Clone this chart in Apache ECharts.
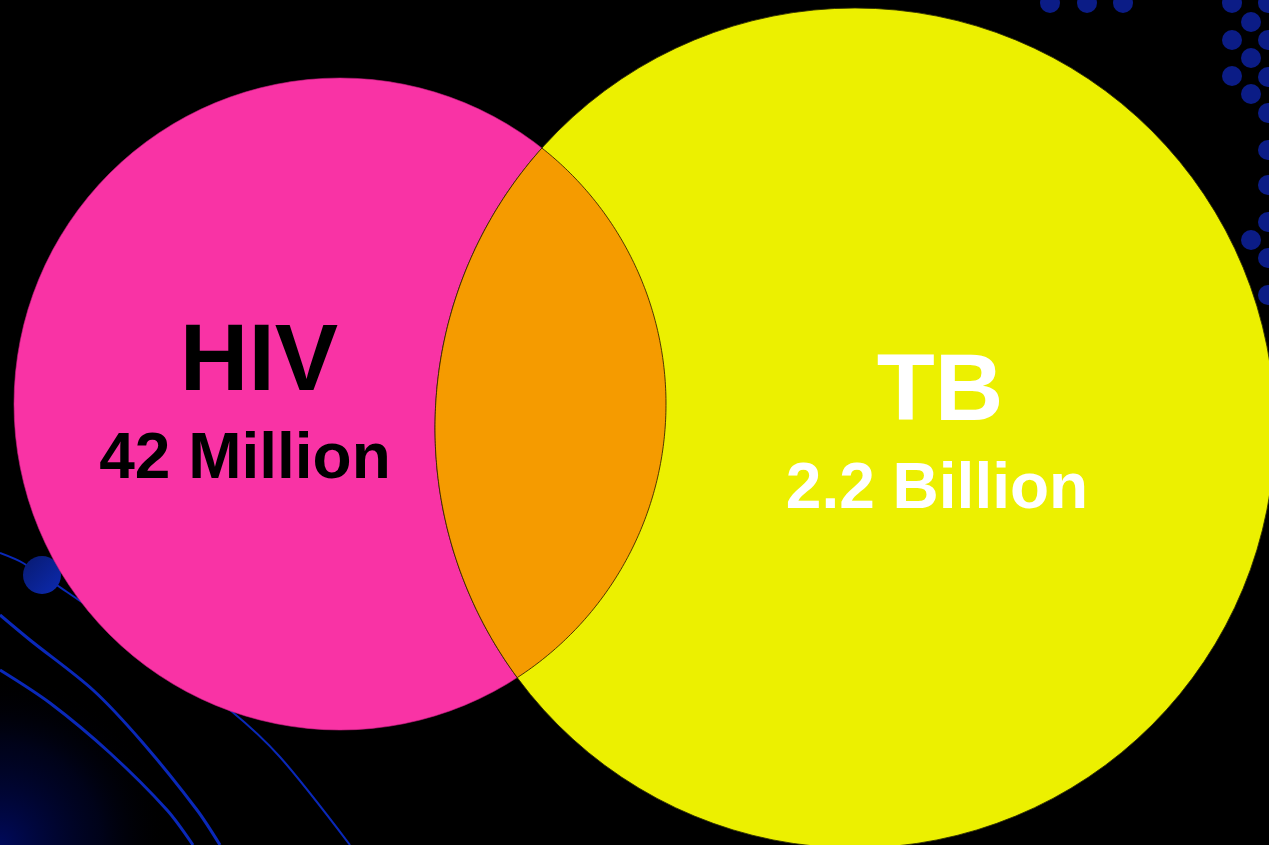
<!DOCTYPE html>
<html>
<head>
<meta charset="utf-8">
<script src="https://cdn.jsdelivr.net/npm/echarts@6/dist/echarts.min.js"></script>
<style>
  html, body { margin: 0; padding: 0; background: #000; }
  #chart { width: 1269px; height: 845px; }
</style>
</head>
<body>
<div id="chart"></div>
<script>
// ---- Data (Venn sets: name, count label, centre and radius in layout units) ----
const setNames = ['HIV', 'TB'];
const setCounts = ['42 Million', '2.2 Billion'];
const centerX = [340, 855];
const centerY = [404, 428];
const radius = [326, 420];

// ---- Styles ----
const setColors = ['#F933A5', '#ECF000'];
const overlapColor = '#F59B00';
const nameColors = ['#000000', '#FFFFFF'];
// label offsets from circle centre (name, count) in layout units
const nameOffset = [[-81, -40], [85, -34]];
const countOffset = [[-95, 56], [82, 62]];
const FONT = '"Liberation Sans", Arial, Helvetica, sans-serif';

const chart = echarts.init(document.getElementById('chart'), null, { renderer: 'canvas' });

const option = {
  backgroundColor: '#000000',
  animation: false,
  grid: { left: 0, right: 0, top: 0, bottom: 0 },
  xAxis: { type: 'value', min: 0, max: 1269, show: false },
  yAxis: { type: 'value', min: 0, max: 845, inverse: true, show: false },
  graphic: {
    elements: [
      {
        type: 'circle', z: 0, silent: true,
        shape: { cx: 0, cy: 845, r: 170 },
        style: {
          fill: {
            type: 'radial', x: 0.5, y: 0.5, r: 0.5,
            colorStops: [
              { offset: 0, color: 'rgba(0,10,95,0.95)' },
              { offset: 0.6, color: 'rgba(0,5,50,0.5)' },
              { offset: 1, color: 'rgba(0,0,0,0)' }
            ]
          }
        }
      },
      {
        type: 'polyline', z: 0, silent: true,
        shape: { points: [[0, 553], [23, 563], [67, 592], [150, 650], [230, 710], [280, 757], [350, 845]], smooth: 0.3 },
        style: { stroke: '#0A28B8', lineWidth: 2, fill: null }
      },
      {
        type: 'polyline', z: 0, silent: true,
        shape: { points: [[0, 615], [30, 640], [93, 690], [143, 743], [197, 810], [220, 845]], smooth: 0.3 },
        style: { stroke: '#0A28B8', lineWidth: 3, fill: null }
      },
      {
        type: 'polyline', z: 0, silent: true,
        shape: { points: [[0, 670], [50, 703], [110, 753], [167, 810], [193, 845]], smooth: 0.3 },
        style: { stroke: '#0A28B8', lineWidth: 3, fill: null }
      },
      {
        type: 'circle', z: 0, silent: true,
        shape: { cx: 42, cy: 575, r: 19 },
        style: {
          fill: {
            type: 'linear', x: 0, y: 0, x2: 1, y2: 1,
            colorStops: [{ offset: 0, color: '#081A70' }, { offset: 1, color: '#0C2AB0' }]
          }
        }
      },
      // dot pattern top-right
      ...[[1050, 3], [1087, 3], [1123, 3],
          [1232, 3], [1232, 40], [1232, 76],
          [1251, 22], [1251, 58], [1251, 94], [1251, 240],
          [1268, 3], [1268, 40], [1268, 77], [1268, 113], [1268, 150], [1268, 185], [1268, 222], [1268, 258], [1268, 295]
        ].map(p => ({
          type: 'circle', z: 0, silent: true,
          shape: { cx: p[0], cy: p[1], r: 10 },
          style: { fill: '#0B1C86' }
        }))
    ]
  },
  series: [
    {
      name: 'sets',
      type: 'custom',
      coordinateSystem: 'cartesian2d',
      z: 2,
      silent: true,
      data: setNames.map((n, i) => ({ name: n, value: [centerX[i], centerY[i], radius[i], i] })),
      renderItem: function (params, api) {
        const i = api.value(3);
        const c = api.coord([api.value(0), api.value(1)]);
        const r = api.size([api.value(2), 0])[0];
        return {
          type: 'circle',
          shape: { cx: c[0], cy: c[1], r: r },
          style: {
            fill: setColors[i],
            stroke: i === 1 ? 'rgba(45,45,0,0.85)' : 'rgba(200,30,130,0.6)',
            lineWidth: 1
          }
        };
      }
    },
    {
      name: 'overlap',
      type: 'custom',
      coordinateSystem: 'cartesian2d',
      z: 3,
      silent: true,
      data: [[centerX[0], centerY[0], radius[0], centerX[1], centerY[1], radius[1]]],
      renderItem: function (params, api) {
        const c1 = api.coord([api.value(0), api.value(1)]);
        const r1 = api.size([api.value(2), 0])[0];
        const c2 = api.coord([api.value(3), api.value(4)]);
        const r2 = api.size([api.value(5), 0])[0];
        const dx = c2[0] - c1[0], dy = c2[1] - c1[1];
        const d = Math.sqrt(dx * dx + dy * dy);
        const a = (r1 * r1 - r2 * r2 + d * d) / (2 * d);
        const h = Math.sqrt(Math.max(r1 * r1 - a * a, 0));
        const phi1 = Math.atan2(dy, dx);
        const phi2 = Math.atan2(-dy, -dx);
        const b1 = Math.atan2(h, a);
        const b2 = Math.atan2(h, d - a);
        const pts = [];
        const N = 180;
        for (let k = 0; k <= N; k++) {
          const t = phi2 - b2 + (2 * b2) * k / N;
          pts.push([c2[0] + r2 * Math.cos(t), c2[1] + r2 * Math.sin(t)]);
        }
        for (let k = 0; k <= N; k++) {
          const t = phi1 - b1 + (2 * b1) * k / N;
          pts.push([c1[0] + r1 * Math.cos(t), c1[1] + r1 * Math.sin(t)]);
        }
        return {
          type: 'polygon',
          shape: { points: pts },
          style: { fill: overlapColor, stroke: 'rgba(50,30,0,0.85)', lineWidth: 1 }
        };
      }
    },
    {
      name: 'labels',
      type: 'custom',
      coordinateSystem: 'cartesian2d',
      z: 4,
      silent: true,
      data: setNames.map((n, i) => ({ name: n, value: [centerX[i], centerY[i], i] })),
      renderItem: function (params, api) {
        const i = api.value(2);
        const cx = api.value(0), cy = api.value(1);
        const p1 = api.coord([cx + nameOffset[i][0], cy + nameOffset[i][1]]);
        const p2 = api.coord([cx + countOffset[i][0], cy + countOffset[i][1]]);
        return {
          type: 'group',
          children: [
            {
              type: 'text',
              style: {
                x: p1[0], y: p1[1], text: setNames[i],
                fill: nameColors[i], font: 'bold 95px ' + FONT,
                align: 'center', verticalAlign: 'middle'
              }
            },
            {
              type: 'text',
              style: {
                x: p2[0], y: p2[1], text: setCounts[i],
                fill: nameColors[i], font: 'bold 64px ' + FONT,
                align: 'center', verticalAlign: 'middle'
              }
            }
          ]
        };
      }
    }
  ]
};

chart.setOption(option);
</script>
</body>
</html>
